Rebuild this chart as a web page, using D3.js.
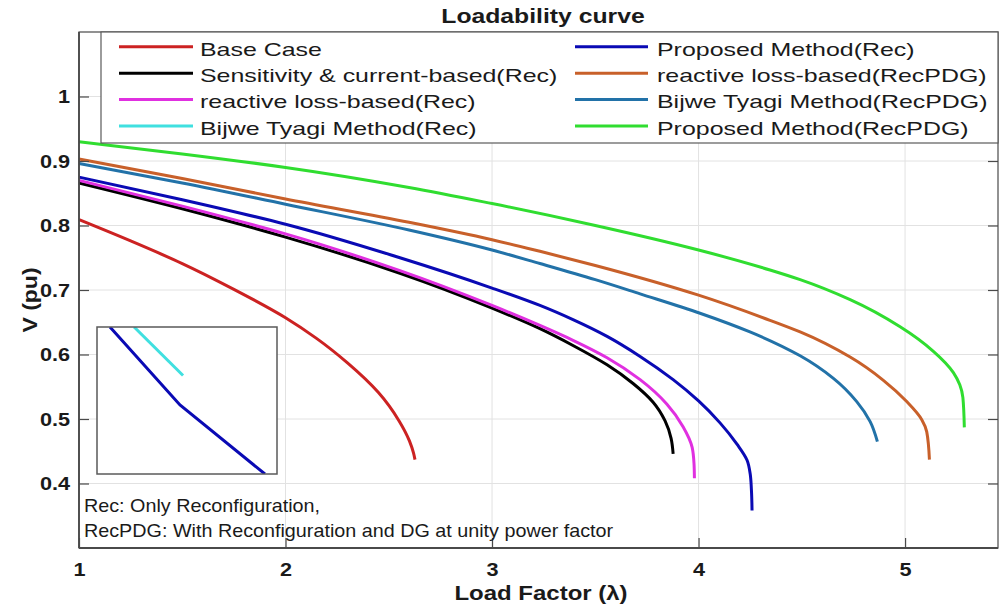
<!DOCTYPE html>
<html>
<head>
<meta charset="utf-8">
<script src="https://cdn.jsdelivr.net/npm/d3@7"></script>
<style>
  html, body { margin: 0; padding: 0; background: #fff; }
  svg { display: block; font-family: "Liberation Sans", Arial, sans-serif; }
</style>
</head>
<body>
<svg id="chart" width="1000" height="607"></svg>
<script>
// ---------------- DATA ----------------
const chartTitle = "Loadability curve";
const xLabel = "Load Factor (\u03bb)";
const yLabel = "V (pu)";
const xTicks = [1, 2, 3, 4, 5];
const xTickLabels = ["1", "2", "3", "4", "5"];
const yTicks = [0.4, 0.5, 0.6, 0.7, 0.8, 0.9, 1.0];
const yTickLabels = ["0.4", "0.5", "0.6", "0.7", "0.8", "0.9", "1"];

const seriesNames = [
  "Base Case",
  "Sensitivity & current-based(Rec)",
  "reactive loss-based(Rec)",
  "Bijwe Tyagi Method(Rec)",
  "Proposed Method(Rec)",
  "reactive loss-based(RecPDG)",
  "Bijwe Tyagi Method(RecPDG)",
  "Proposed Method(RecPDG)"
];
const seriesColors = ["#cc2222", "#000000", "#e030e0", "#40e0e0", "#0a0ab4", "#c8602a", "#2272a8", "#30dd30"];

// [lambda, V]
const baseCase = [[1,0.809],[1.25,0.776],[1.5,0.741],[1.75,0.701],[2.0,0.657],[2.15,0.625],[2.3,0.587],[2.45,0.541],[2.55,0.497],[2.60,0.466],[2.62,0.447],[2.627,0.437]];
const sensitivityRec = [[1,0.866],[1.5,0.826],[2,0.782],[2.554,0.726],[3,0.672],[3.232,0.640],[3.392,0.614],[3.557,0.584],[3.683,0.555],[3.78,0.526],[3.838,0.497],[3.867,0.470],[3.877,0.446]];
const reactiveRec = [[1,0.870],[1.5,0.830],[2,0.787],[2.554,0.730],[3,0.676],[3.232,0.645],[3.392,0.622],[3.557,0.595],[3.717,0.561],[3.847,0.523],[3.925,0.488],[3.969,0.456],[3.978,0.431],[3.980,0.408]];
const proposedRec = [[1,0.875],[1.5,0.840],[2,0.802],[2.554,0.750],[3,0.703],[3.232,0.676],[3.392,0.654],[3.557,0.628],[3.717,0.597],[3.877,0.561],[4.0,0.528],[4.104,0.494],[4.186,0.461],[4.235,0.436],[4.25,0.415],[4.256,0.390],[4.259,0.358]];
const reactiveRecPDG = [[1,0.903],[1.5,0.873],[2,0.841],[2.598,0.805],[3,0.778],[3.232,0.760],[3.5,0.738],[4.0,0.692],[4.346,0.653],[4.492,0.635],[4.734,0.596],[4.895,0.560],[5.008,0.527],[5.081,0.499],[5.105,0.480],[5.118,0.437]];
const bijweRecPDG = [[1,0.896],[1.5,0.866],[2,0.833],[2.598,0.793],[3,0.762],[3.232,0.741],[3.5,0.716],[3.717,0.694],[4.007,0.664],[4.249,0.635],[4.492,0.598],[4.653,0.563],[4.766,0.527],[4.831,0.496],[4.866,0.465]];
const proposedRecPDG = [[1,0.930],[1.5,0.911],[2,0.890],[2.598,0.859],[3,0.834],[3.5,0.800],[4.0,0.762],[4.346,0.731],[4.492,0.716],[4.734,0.685],[4.976,0.643],[5.137,0.605],[5.234,0.572],[5.265,0.553],[5.28,0.533],[5.287,0.487]];

// zoomed inset (lambda, V)
const insetProposedRec = [[2.9072,0.6800],[2.9461,0.6747],[2.9933,0.6700]];
const insetBijweRec = [[2.9206,0.6800],[2.9478,0.6767]];

const noteLines = ["Rec: Only Reconfiguration,", "RecPDG: With Reconfiguration and DG at unity power factor"];

// ---------------- LAYOUT ----------------
const svg = d3.select("#chart");
const L = 79, R = 998, T = 32, B = 548;
const x = d3.scaleLinear().domain([1, 5.45]).range([L, R]);
const y = d3.scaleLinear().domain([0.3, 1.1]).range([B, T]);
const axisColor = "#4a4a4a";
const gridColor = "#e2e2e2";

function stretchedText(g, px, py, str, o) {
  return g.append("text")
    .attr("transform", `translate(${px},${py})${o.rotate ? " rotate(" + o.rotate + ")" : ""} scale(${o.sx || 1},1)`)
    .attr("text-anchor", o.anchor || "start")
    .attr("font-size", o.size)
    .attr("font-weight", o.weight || "normal")
    .attr("fill", o.fill || "#1a1a1a")
    .text(str);
}

// grid
const grid = svg.append("g");
grid.selectAll("line.gx").data(xTicks.slice(1)).join("line")
  .attr("x1", d => x(d)).attr("x2", d => x(d)).attr("y1", T).attr("y2", B)
  .attr("stroke", gridColor).attr("stroke-width", 1);
grid.selectAll("line.gy").data(yTicks).join("line")
  .attr("x1", L).attr("x2", R).attr("y1", d => y(d)).attr("y2", d => y(d))
  .attr("stroke", gridColor).attr("stroke-width", 1);

// curves
const line = d3.line().x(d => x(d[0])).y(d => y(d[1])).curve(d3.curveMonotoneY);
const mainSeries = [
  [baseCase, 0], [sensitivityRec, 1], [reactiveRec, 2], [proposedRec, 4],
  [reactiveRecPDG, 5], [bijweRecPDG, 6], [proposedRecPDG, 7]
];
svg.append("g").selectAll("path").data(mainSeries).join("path")
  .attr("d", d => line(d[0]))
  .attr("fill", "none")
  .attr("stroke", d => seriesColors[d[1]])
  .attr("stroke-width", 3)
  .attr("stroke-linejoin", "round")
  .attr("stroke-linecap", "butt");

// axes
const xAxis = d3.axisBottom(x).tickValues(xTicks).tickSize(-10).tickPadding(15)
  .tickFormat((d, i) => xTickLabels[i]);
const yAxis = d3.axisLeft(y).tickValues(yTicks).tickSize(-10).tickPadding(9)
  .tickFormat((d, i) => yTickLabels[i]);
const yAxisR = d3.axisRight(y).tickValues(yTicks).tickSize(-10).tickFormat("");

const gx = svg.append("g").attr("transform", `translate(0,${B})`).call(xAxis);
const gy = svg.append("g").attr("transform", `translate(${L},0)`).call(yAxis);
const gyr = svg.append("g").attr("transform", `translate(${R},0)`).call(yAxisR);
[gx, gy, gyr].forEach(g => {
  g.select(".domain").remove();
  g.selectAll(".tick line").attr("stroke", axisColor).attr("stroke-width", 1.2);
});
const tickSx = 1.14;
gx.selectAll(".tick text")
  .attr("font-size", 19).attr("font-weight", "bold").attr("fill", "#1a1a1a")
  .attr("font-family", "Liberation Sans, Arial, sans-serif")
  .attr("transform", `scale(${tickSx},1)`);
gy.selectAll(".tick text")
  .attr("font-size", 19).attr("font-weight", "bold").attr("fill", "#1a1a1a")
  .attr("font-family", "Liberation Sans, Arial, sans-serif")
  .attr("x", -9 / tickSx)
  .attr("transform", `scale(${tickSx},1)`);

// axes frame
svg.append("rect").attr("x", L).attr("y", T).attr("width", R - L).attr("height", B - T)
  .attr("fill", "none").attr("stroke", axisColor).attr("stroke-width", 1.2);
svg.append("line").attr("x1", L).attr("x2", L).attr("y1", T).attr("y2", B)
  .attr("stroke", axisColor).attr("stroke-width", 1.8);
svg.append("line").attr("x1", L).attr("x2", R).attr("y1", B).attr("y2", B)
  .attr("stroke", axisColor).attr("stroke-width", 1.8);

// legend
const lg = svg.append("g");
lg.append("rect").attr("x", 101).attr("y", T).attr("width", R - 101).attr("height", 143 - T)
  .attr("fill", "#fff").attr("stroke", "#5a5a5a").attr("stroke-width", 1.2);
const legendCols = [{x1: 119, x2: 193, tx: 200}, {x1: 575, x2: 648, tx: 657}];
const rowY = [46.7, 73.2, 99.6, 126.0];
seriesNames.forEach((name, i) => {
  const c = legendCols[Math.floor(i / 4)];
  const ry = rowY[i % 4];
  lg.append("line").attr("x1", c.x1).attr("x2", c.x2).attr("y1", ry).attr("y2", ry)
    .attr("stroke", seriesColors[i]).attr("stroke-width", 3);
  stretchedText(lg, c.tx, ry + 8.8, name, {size: 18.6, sx: 1.34});
});

// inset
const inset = {x0: 97, x1: 277, y0: 327, y1: 474};
const ix = d3.scaleLinear().domain([2.90, 3.00]).range([inset.x0, inset.x1]);
const iy = d3.scaleLinear().domain([0.67, 0.68]).range([inset.y1, inset.y0]);
const ig = svg.append("g");
ig.append("clipPath").attr("id", "insetClip").append("rect")
  .attr("x", inset.x0).attr("y", inset.y0).attr("width", inset.x1 - inset.x0).attr("height", inset.y1 - inset.y0);
ig.append("rect").attr("x", inset.x0).attr("y", inset.y0)
  .attr("width", inset.x1 - inset.x0).attr("height", inset.y1 - inset.y0)
  .attr("fill", "#fff");
const iline = d3.line().x(d => ix(d[0])).y(d => iy(d[1]));
ig.append("path").attr("d", iline(insetBijweRec)).attr("fill", "none")
  .attr("stroke", seriesColors[3]).attr("stroke-width", 3).attr("clip-path", "url(#insetClip)");
ig.append("path").attr("d", iline(insetProposedRec)).attr("fill", "none")
  .attr("stroke", seriesColors[4]).attr("stroke-width", 3).attr("clip-path", "url(#insetClip)");
ig.append("rect").attr("x", inset.x0).attr("y", inset.y0)
  .attr("width", inset.x1 - inset.x0).attr("height", inset.y1 - inset.y0)
  .attr("fill", "none").attr("stroke", "#5a5a5a").attr("stroke-width", 1.5);

// annotation
const ng = svg.append("g");
stretchedText(ng, 84, 512, noteLines[0], {size: 19, sx: 1.04});
stretchedText(ng, 84, 537, noteLines[1], {size: 19, sx: 1.04});

// titles
stretchedText(svg, 543, 23, chartTitle, {size: 19.5, sx: 1.27, weight: "bold", anchor: "middle"});
stretchedText(svg, 541, 600, xLabel, {size: 19.5, sx: 1.23, weight: "bold", anchor: "middle"});
stretchedText(svg, 37, 300, yLabel, {size: 19.5, sx: 1.18, weight: "bold", anchor: "middle", rotate: -90});
</script>
</body>
</html>
